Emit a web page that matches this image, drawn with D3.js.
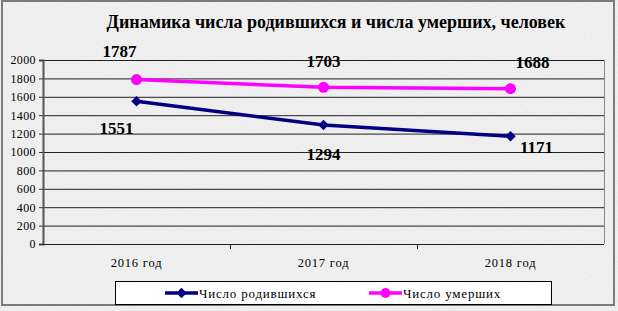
<!DOCTYPE html>
<html>
<head>
<meta charset="utf-8">
<script src="https://cdn.jsdelivr.net/npm/d3@7"></script>
<style>
  html, body { margin: 0; padding: 0; background: #fff; }
  svg { display: block; }
  svg text { font-family: "Liberation Serif", "Times New Roman", "DejaVu Serif", serif; }
</style>
</head>
<body>
<svg id="chart" width="618" height="311"></svg>
<script>
const years = ['2016 год', '2017 год', '2018 год'];
const births = [1551, 1294, 1171];
const deaths = [1787, 1703, 1688];
const yTicks = [0, 200, 400, 600, 800, 1000, 1200, 1400, 1600, 1800, 2000];
const birthsName = 'Число родившихся';
const deathsName = 'Число умерших';
const title = 'Динамика числа родившихся и числа умерших, человек';

const W = 618, H = 311;
const plotL = 43, plotR = 604, plotT = 60, plotB = 244;

const svg = d3.select('#chart');

// textured background
const defs = svg.append('defs');
const f = defs.append('filter').attr('id', 'grain').attr('x', 0).attr('y', 0).attr('width', 1).attr('height', 1);
f.append('feTurbulence').attr('type', 'fractalNoise').attr('baseFrequency', 0.9).attr('numOctaves', 2).attr('seed', 3);
f.append('feColorMatrix').attr('type', 'matrix')
  .attr('values', '0 0 0 0 0.6  0 0 0 0 0.6  0 0 0 0 0.6  0 0 0 -1.1 0.75');
svg.append('rect').attr('width', W).attr('height', H).attr('fill', '#f1f1f1');
svg.append('rect').attr('width', W).attr('height', H).attr('filter', 'url(#grain)').attr('opacity', 0.35);
svg.append('rect').attr('x', 2).attr('y', 1).attr('width', 612).attr('height', 304)
  .attr('fill', 'none').attr('stroke', '#7a7a7a').attr('stroke-width', 2);

const x = d3.scaleBand().domain(years).range([plotL, plotR]);
const y = d3.scaleLinear().domain([0, 2000]).range([plotB, plotT]);
const cx = d => x(d) + x.bandwidth() / 2;

// gridlines
svg.append('g').selectAll('line').data(yTicks.filter(t => t > 0)).join('line')
  .attr('x1', plotL).attr('x2', plotR)
  .attr('y1', d => y(d) + 0.5).attr('y2', d => y(d) + 0.5)
  .attr('stroke', '#222').attr('stroke-width', 1);
svg.append('line').attr('x1', plotR + 0.5).attr('x2', plotR + 0.5).attr('y1', plotT).attr('y2', plotB)
  .attr('stroke', '#888');

// axes
const yAxis = svg.append('g').attr('transform', `translate(${plotL},0)`)
  .call(d3.axisLeft(y).tickValues(yTicks).tickFormat(d3.format('d')).tickSize(4).tickPadding(3));
yAxis.attr('font-family', null);
yAxis.select('.domain').attr('stroke', '#555').attr('stroke-width', 2);
yAxis.selectAll('.tick line').attr('stroke', '#333');
yAxis.selectAll('text').attr('font-size', 12).attr('fill', '#000').attr('letter-spacing', 0.4);

const xAxis = svg.append('g').attr('transform', `translate(0,${plotB})`)
  .call(d3.axisBottom(x).tickSize(0).tickPadding(14));
xAxis.attr('font-family', null);
xAxis.select('.domain').attr('stroke', '#222').attr('d', `M${plotL},0.5H${plotR}`);
xAxis.selectAll('text').attr('font-size', 12.5).attr('fill', '#000').attr('letter-spacing', 0.8);
svg.append('g').selectAll('line').data(years.slice(1)).join('line')
  .attr('x1', d => x(d) + 0.5).attr('x2', d => x(d) + 0.5)
  .attr('y1', plotB).attr('y2', plotB + 5).attr('stroke', '#222');

// series
const line = d3.line().x((d, i) => cx(years[i])).y(d => y(d));
svg.append('path').datum(deaths).attr('d', line)
  .attr('fill', 'none').attr('stroke', '#ff00ff').attr('stroke-width', 3.5);
svg.append('path').datum(births).attr('d', line)
  .attr('fill', 'none').attr('stroke', '#000080').attr('stroke-width', 3.5);

svg.append('g').selectAll('circle').data(deaths).join('circle')
  .attr('cx', (d, i) => cx(years[i])).attr('cy', d => y(d)).attr('r', 5.5)
  .attr('fill', '#ff00ff');
const diamond = d3.symbol().type(d3.symbolDiamond2).size(70);
svg.append('g').selectAll('path').data(births).join('path')
  .attr('d', diamond)
  .attr('transform', (d, i) => `translate(${cx(years[i])},${y(d)})`)
  .attr('fill', '#000080');

// data labels
const labelOffsets = {
  deaths: [[-17, -23], [0, -20], [22, -21]],
  births: [[-20, 33], [0, 35], [26, 17]]
};
const lbl = svg.append('g').attr('font-size', 17).attr('font-weight', 'bold').attr('text-anchor', 'middle');
lbl.selectAll('.d').data(deaths).join('text').attr('class', 'd')
  .attr('x', (d, i) => cx(years[i]) + labelOffsets.deaths[i][0])
  .attr('y', (d, i) => y(d) + labelOffsets.deaths[i][1])
  .text(d => d);
lbl.selectAll('.b').data(births).join('text').attr('class', 'b')
  .attr('x', (d, i) => cx(years[i]) + labelOffsets.births[i][0])
  .attr('y', (d, i) => y(d) + labelOffsets.births[i][1])
  .text(d => d);

// title
svg.append('text').attr('x', 336).attr('y', 28).attr('text-anchor', 'middle')
  .attr('font-size', 18).attr('font-weight', 'bold').text(title);

// legend
const lg = svg.append('g');
lg.append('rect').attr('x', 115.5).attr('y', 281.5).attr('width', 436).attr('height', 23)
  .attr('fill', '#fff').attr('stroke', '#000');
const items = [
  { name: birthsName, color: '#000080', x: 165, marker: 'diamond' },
  { name: deathsName, color: '#ff00ff', x: 369, marker: 'circle' }
];
items.forEach(it => {
  const g = lg.append('g').attr('transform', `translate(${it.x},293)`);
  g.append('line').attr('x1', 0).attr('x2', 33).attr('stroke', it.color).attr('stroke-width', 3.5);
  if (it.marker === 'circle') g.append('circle').attr('cx', 16.5).attr('r', 5).attr('fill', it.color);
  else g.append('path').attr('d', diamond).attr('transform', 'translate(16.5,0)').attr('fill', it.color);
  g.append('text').attr('x', 34).attr('y', 5).attr('font-size', 13).attr('letter-spacing', 0.8).text(it.name);
});
</script>
</body>
</html>
